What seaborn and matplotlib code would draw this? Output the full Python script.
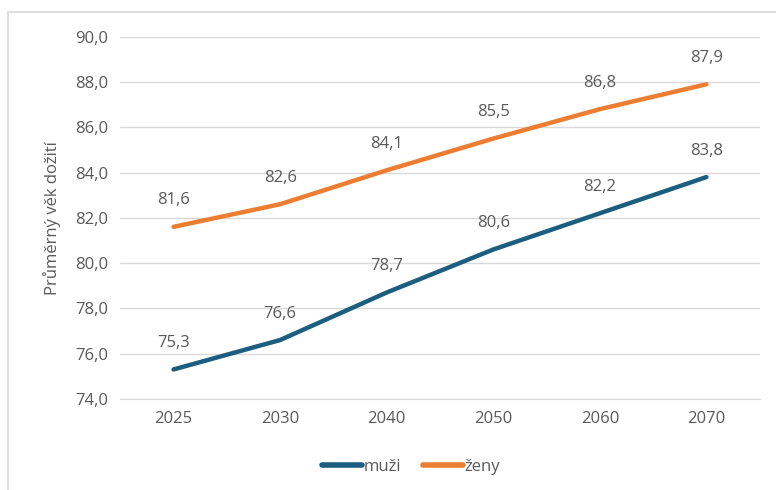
import pandas as pd
import matplotlib.pyplot as plt
import seaborn as sns
from matplotlib.patches import Rectangle

# Data
years = ["2025", "2030", "2040", "2050", "2060", "2070"]
muzi = [75.3, 76.6, 78.7, 80.6, 82.2, 83.8]
zeny = [81.6, 82.6, 84.1, 85.5, 86.8, 87.9]

df = pd.DataFrame({
    "rok": years * 2,
    "vek": muzi + zeny,
    "pohlavi": ["muži"] * len(years) + ["ženy"] * len(years),
})

sns.set_style("white")
plt.rcParams["font.family"] = ["Open Sans", "DejaVu Sans"]

gray = "#595959"
colors = {"muži": "#1b5e80", "ženy": "#ed7d31"}

fig = plt.figure(figsize=(7.76, 4.9), dpi=100)
ax = fig.add_axes([0.155, 0.186, 0.824, 0.739])

sns.lineplot(data=df, x="rok", y="vek", hue="pohlavi", palette=colors,
             linewidth=3.2, sort=False, ax=ax)

# data labels
for vals in (muzi, zeny):
    for i, v in enumerate(vals):
        ax.annotate(f"{v:.1f}".replace(".", ","), (i, v), xytext=(0, 19),
                    textcoords="offset points", ha="center", va="center",
                    fontsize=12, color=gray)

ax.set_ylim(74, 90)
ax.set_xlim(-0.5, 5.5)
ax.set_yticks(range(74, 91, 2))
ax.set_yticklabels([f"{t:.1f}".replace(".", ",") for t in range(74, 91, 2)])
ax.yaxis.grid(True, color="#d9d9d9", linewidth=1)
ax.set_axisbelow(True)
for s in ax.spines.values():
    s.set_visible(False)
ax.spines["bottom"].set_visible(True)
ax.spines["bottom"].set_color("#d9d9d9")
ax.tick_params(axis="both", length=0, labelsize=12, labelcolor=gray, pad=9)
ax.set_xlabel("")
ax.set_ylabel("Průměrný věk dožití", fontsize=12, color=gray, labelpad=10)

leg = ax.legend(loc="upper center", bbox_to_anchor=(0.455, -0.125), ncol=2,
                frameon=False, fontsize=12, handlelength=2.4, handletextpad=0.1,
                columnspacing=1.3)
for t in leg.get_texts():
    t.set_color(gray)
for h in leg.get_lines():
    h.set_linewidth(4)
    h.set_solid_capstyle("round")

# outer border
fig.patches.append(Rectangle((8 / 776, -0.01), 1.0, 1 - 12 / 490 + 0.01,
                             transform=fig.transFigure, fill=False,
                             edgecolor="#d9d9d9", linewidth=1.2))

fig.savefig("out.png", dpi=100)
